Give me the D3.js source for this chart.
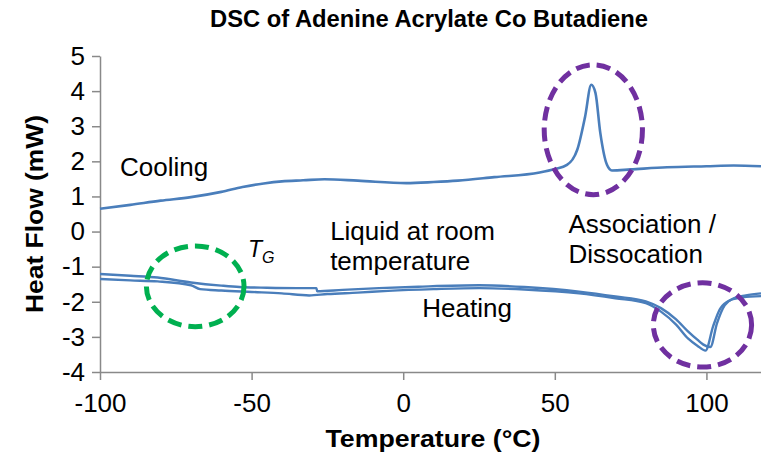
<!DOCTYPE html>
<html>
<head>
<meta charset="utf-8">
<script src="https://cdn.jsdelivr.net/npm/d3@7"></script>
<style>
    body { margin: 0; background: #fff; }
    text { font-family: "Liberation Sans", Arial, sans-serif; fill: #000; }
    .axis path, .axis line { stroke: #898989; stroke-width: 1.5; }
    .axis text { font-size: 26px; }
    .curve { fill: none; stroke: #4a7ebb; stroke-linejoin: round; }
    .mark { fill: none; stroke-width: 5; stroke-dasharray: 14 7; }
</style>
</head>
<body>
<svg class="graph"></svg>
<script>
// cooling run
const coolTemp = [-100, -90, -80, -70, -60, -53, -46, -40, -33, -26, -15, 1, 10, 18, 30, 45, 50, 54, 57.4, 60, 62, 63.4, 65, 67.2, 68.8, 75, 87, 100, 109, 118];
const coolFlow = [0.65, 0.76, 0.88, 0.98, 1.13, 1.27, 1.37, 1.43, 1.46, 1.49, 1.45, 1.38, 1.41, 1.45, 1.55, 1.68, 1.78, 1.90, 2.33, 3.28, 4.18, 3.95, 2.81, 1.90, 1.74, 1.77, 1.83, 1.86, 1.88, 1.86];

// heating runs (upper and lower trace)
const heatTempA = [-100, -90, -81, -70, -60, -54, -45, -35, -28.6, -28.4, -20, -8, 5, 25, 40, 58, 70, 80, 85, 90, 94, 97, 99, 101.3, 103.5, 106, 109, 113, 118];
const heatFlowA = [-1.21, -1.26, -1.31, -1.45, -1.54, -1.58, -1.60, -1.61, -1.61, -1.70, -1.66, -1.61, -1.57, -1.53, -1.58, -1.71, -1.85, -1.99, -2.18, -2.50, -2.85, -3.08, -3.22, -3.29, -2.61, -2.10, -1.90, -1.82, -1.76];
const heatTempB = [-100, -90, -81, -70, -67, -60, -50, -40, -31, -25, -15, -5, 10, 25, 40, 58, 70, 80, 85, 90, 94, 97, 99.7, 102.2, 104.5, 108, 112, 118];
const heatFlowB = [-1.35, -1.39, -1.42, -1.53, -1.64, -1.68, -1.72, -1.76, -1.82, -1.78, -1.74, -1.69, -1.64, -1.61, -1.65, -1.76, -1.90, -2.04, -2.28, -2.65, -3.05, -3.25, -3.39, -2.70, -2.20, -1.95, -1.87, -1.84];

const xTicks = [-100, -50, 0, 50, 100];
const yTicks = [-4, -3, -2, -1, 0, 1, 2, 3, 4, 5];

// dashed rings: centre temp, centre flow, radius in temp, radius in flow
const ringTemp = [62.7, 98.7, -68.6];
const ringFlow = [2.9, -2.66, -1.56];
const ringRadT = [16.2, 16.2, 16.1];
const ringRadF = [1.85, 1.2, 1.15];
const ringColor = ["#7030a0", "#7030a0", "#00b050"];

// notes on the plot: lines of text, anchor temp / flow
const noteText = [["Cooling"], ["Liquid at room", "temperature"], ["Association /", "Dissocation"], ["Heating"]];
const noteTemp = [-93.4, -24.1, 54.5, 6.3];
const noteFlow = [1.59, -0.24, -0.04, -2.43];

const size = {width: 761, height: 454};
const margin = {left: 100, right: 0, top: 56, bottom: 82};

const svg = d3.select(".graph")
    .attr("width", size.width)
    .attr("height", size.height);

const x = d3.scaleLinear().domain([-100, 118]).range([margin.left, size.width - margin.right]);
const y = d3.scaleLinear().domain([-4, 5]).range([size.height - margin.bottom, margin.top]);

// plain hyphen for negatives, as in the original
const tickText = d => String(d);

svg.append("g")
    .attr("class", "axis")
    .attr("transform", `translate(0,${y(-4)})`)
    .call(d3.axisBottom(x).tickValues(xTicks).tickFormat(tickText)
        .tickSize(8).tickPadding(14).tickSizeOuter(0));

svg.append("g")
    .attr("class", "axis")
    .attr("transform", `translate(${x(-100)},0)`)
    .call(d3.axisLeft(y).tickValues(yTicks).tickFormat(tickText)
        .tickSize(8).tickPadding(7).tickSizeOuter(0));

const line = d3.line()
    .x(d => x(d[0]))
    .y(d => y(d[1]))
    .curve(d3.curveMonotoneX);

svg.append("path")
    .attr("class", "curve")
    .attr("stroke-width", 2.4)
    .attr("d", line(d3.zip(heatTempB, heatFlowB)));
svg.append("path")
    .attr("class", "curve")
    .attr("stroke-width", 2.4)
    .attr("d", line(d3.zip(heatTempA, heatFlowA)));
svg.append("path")
    .attr("class", "curve")
    .attr("stroke-width", 2.6)
    .attr("d", line(d3.zip(coolTemp, coolFlow)));

svg.selectAll(".mark")
    .data(d3.range(ringTemp.length))
    .join("ellipse")
    .attr("class", "mark")
    .attr("cx", i => x(ringTemp[i]))
    .attr("cy", i => y(ringFlow[i]))
    .attr("rx", i => x(ringTemp[i] + ringRadT[i]) - x(ringTemp[i]))
    .attr("ry", i => y(ringFlow[i] - ringRadF[i]) - y(ringFlow[i]))
    .attr("stroke", i => ringColor[i]);

const notes = svg.selectAll(".note")
    .data(d3.range(noteText.length))
    .join("text")
    .attr("class", "note")
    .attr("font-size", 26)
    .attr("x", i => x(noteTemp[i]))
    .attr("y", i => y(noteFlow[i]));
notes.selectAll("tspan")
    .data(i => noteText[i].map(t => ({t, i})))
    .join("tspan")
    .attr("x", d => x(noteTemp[d.i]))
    .attr("dy", (d, k) => k ? 30 : 0)
    .text(d => d.t);

// glass transition label
const tg = svg.append("text")
    .attr("x", x(-51.2))
    .attr("y", y(-0.72))
    .attr("font-style", "italic")
    .attr("font-size", 23);
tg.append("tspan").text("T");
tg.append("tspan").attr("font-size", 16).attr("dy", 6).text("G");

// titles
svg.append("text")
    .attr("x", 429).attr("y", 27)
    .attr("text-anchor", "middle")
    .attr("font-weight", "bold")
    .attr("font-size", 24)
    .attr("textLength", 438).attr("lengthAdjust", "spacingAndGlyphs")
    .text("DSC of Adenine Acrylate Co Butadiene");

svg.append("text")
    .attr("x", 433).attr("y", 447)
    .attr("text-anchor", "middle")
    .attr("font-weight", "bold")
    .attr("font-size", 24)
    .attr("textLength", 215).attr("lengthAdjust", "spacingAndGlyphs")
    .text("Temperature (°C)");

svg.append("text")
    .attr("transform", "translate(43,214) rotate(-90)")
    .attr("text-anchor", "middle")
    .attr("font-weight", "bold")
    .attr("font-size", 24)
    .attr("textLength", 198).attr("lengthAdjust", "spacingAndGlyphs")
    .text("Heat Flow (mW)");
</script>
</body>
</html>
